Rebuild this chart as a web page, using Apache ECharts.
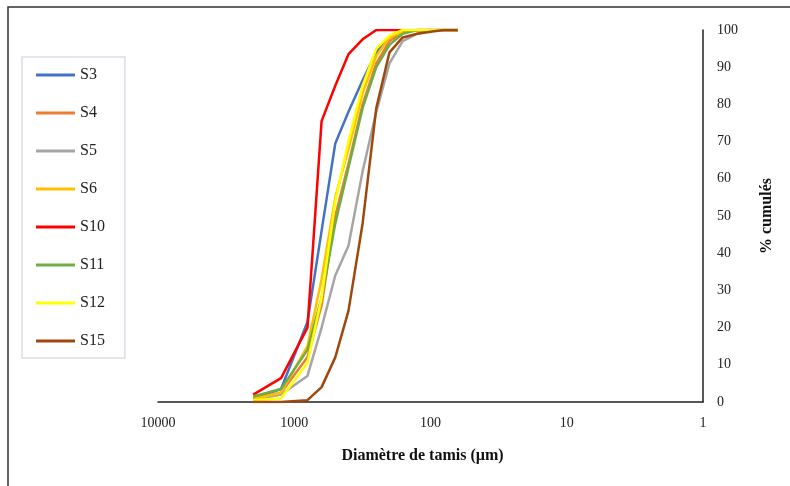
<!DOCTYPE html>
<html>
<head>
<meta charset="utf-8">
<script src="https://cdn.jsdelivr.net/npm/echarts@6/dist/echarts.min.js"></script>
<style>
  html, body { margin: 0; padding: 0; background: #fff; }
  #main { width: 790px; height: 486px; }
</style>
</head>
<body>
<div id="main"></div>
<script>
// tamis (µm)
var sieves = [2000, 1250, 800, 630, 500, 400, 315, 250, 200, 160, 125, 100, 80, 63];

var s3  = [1, 3.5, 21.5, 46, 69.5, 78, 86.5, 94, 98, 99.5, 100, 100, 100, 100];
var s4  = [1, 2.5, 12, 26, 50, 64, 80, 91, 97, 99.5, 100, 100, 100, 100];
var s5  = [0.5, 2, 7, 20, 34, 42, 62, 78, 91, 97, 99, 100, 100, 100];
var s6  = [0.8, 2.5, 15, 33, 55, 68, 83, 93, 98, 99.5, 100, 100, 100, 100];
var s10 = [2, 6.4, 20, 75.5, 85, 93.5, 97.5, 100, 100, 100, 100, 100, 100, 100];
var s11 = [1.5, 3.5, 14, 28, 48, 63, 79, 90, 96, 99, 100, 100, 100, 100];
var s12 = [0.5, 1, 10.5, 28, 54, 70, 85, 95, 98.5, 100, 100, 100, 100, 100];
var s15 = [0, 0, 0.5, 4, 12, 24.5, 48, 79, 94, 98, 99, 99.5, 100, 100];

var names  = ['S3', 'S4', 'S5', 'S6', 'S10', 'S11', 'S12', 'S15'];
var values = [s3, s4, s5, s6, s10, s11, s12, s15];
var colors = ['#4472C4', '#ED7D31', '#A5A5A5', '#FFC000', '#FF0000', '#70AD47', '#FFFF00', '#9E480E'];

var font = 'Liberation Serif';

var chart = echarts.init(document.getElementById('main'));

var series = names.map(function (n, i) {
    return {
        name: n,
        type: 'line',
        symbol: 'none',
        data: sieves.map(function (d, k) { return [d, values[i][k]]; }),
        lineStyle: { width: 2.5, color: colors[i] },
        itemStyle: { color: colors[i] }
    };
});

var option = {
    animation: false,
    backgroundColor: '#fff',
    grid: { left: 158, right: 87, top: 30, bottom: 84 },
    legend: {
        orient: 'vertical',
        left: 22,
        top: 57,
        icon: 'rect',
        itemWidth: 39,
        itemHeight: 3,
        itemGap: 18,
        padding: [8, 20, 7, 14],
        borderColor: '#D9DEE8',
        borderWidth: 1.5,
        textStyle: { fontFamily: font, fontSize: 16, color: '#222', lineHeight: 20 },
        data: names
    },
    xAxis: {
        type: 'log',
        logBase: 10,
        min: 1,
        max: 10000,
        inverse: true,
        axisLine: { lineStyle: { color: '#222', width: 1.5 } },
        axisTick: { show: false },
        splitLine: { show: false },
        axisLabel: {
            fontFamily: font, fontSize: 14, color: '#222', margin: 14,
            formatter: function (v) { return String(Math.round(v)); }
        },
        name: 'Diamètre de tamis (µm)',
        nameLocation: 'middle',
        nameGap: 46,
        nameTextStyle: { fontFamily: font, fontSize: 16, fontWeight: 'bold', color: '#111', padding: [0, 16, 0, 0] }
    },
    yAxis: {
        type: 'value',
        position: 'right',
        min: 0,
        max: 100,
        interval: 10,
        axisLine: { show: true, lineStyle: { color: '#222', width: 1.5 } },
        axisTick: { show: false },
        splitLine: { show: false },
        axisLabel: { fontFamily: font, fontSize: 14, color: '#222', margin: 14 },
        name: '% cumulés',
        nameLocation: 'middle',
        nameRotate: 90,
        nameGap: 56,
        nameTextStyle: { fontFamily: font, fontSize: 16, fontWeight: 'bold', color: '#111' }
    },
    graphic: [{
        type: 'polyline',
        shape: { points: [[8, 486], [8, 7], [790, 7]] },
        style: { stroke: '#333', lineWidth: 1.5, fill: null },
        silent: true
    }],
    series: series
};

chart.setOption(option);
</script>
</body>
</html>
